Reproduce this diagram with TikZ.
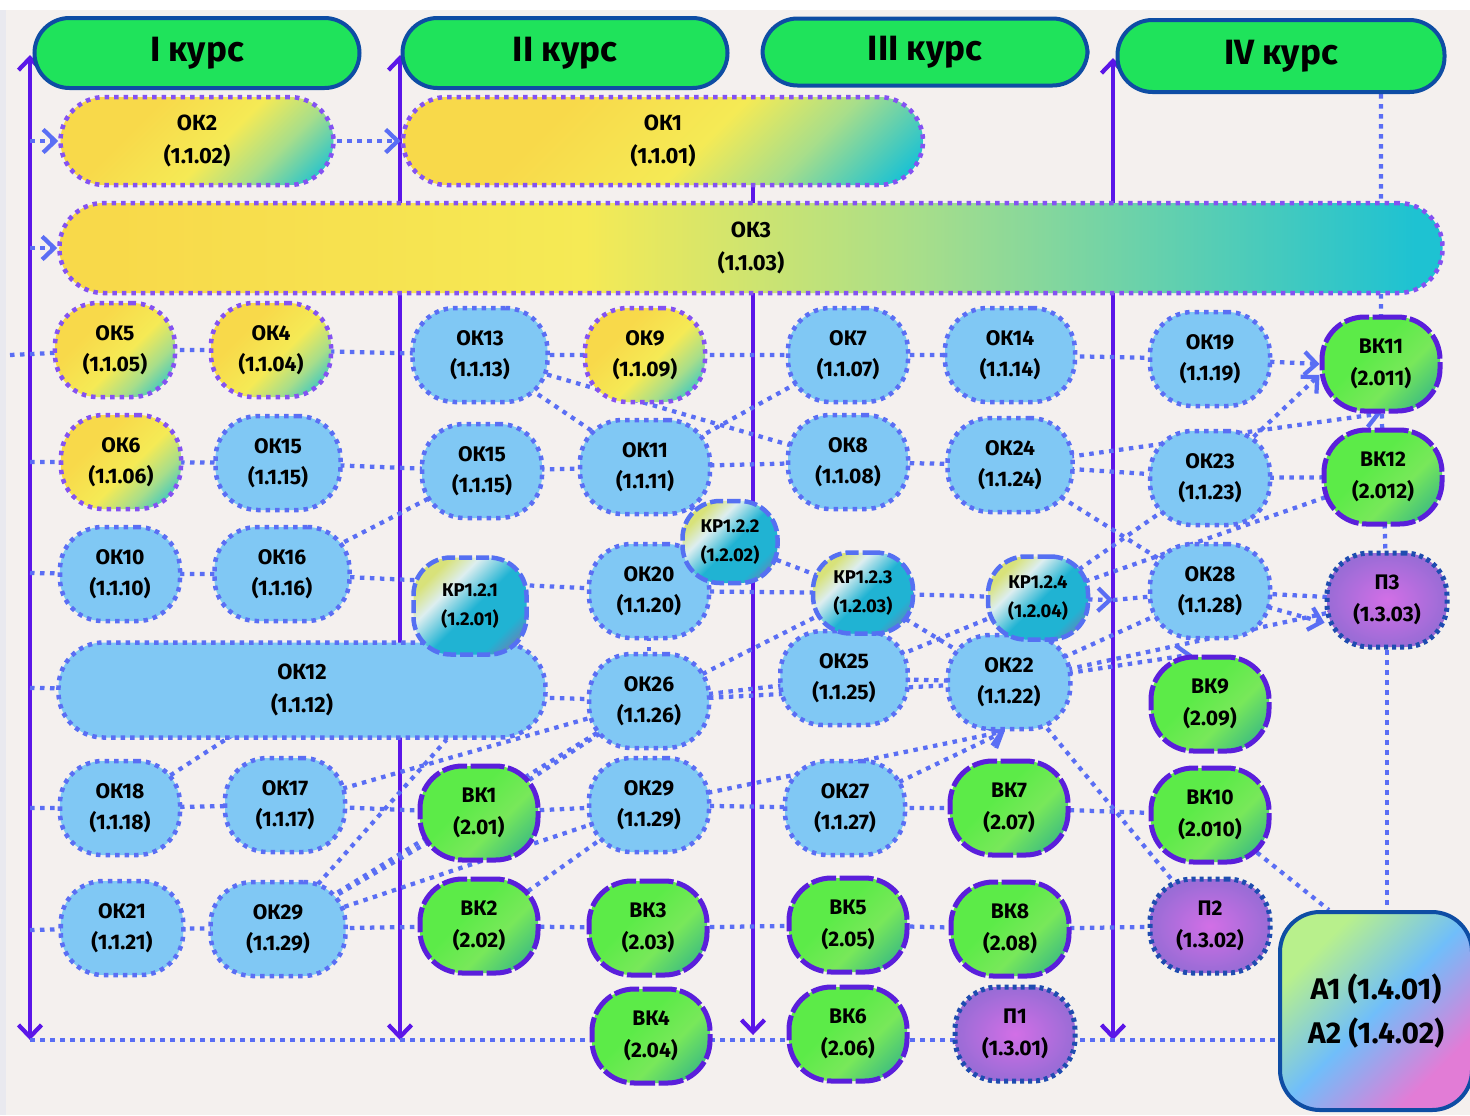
\documentclass[tikz,border=0pt]{standalone}
\usepackage{fontspec}
\setmainfont{Fira Sans}
\usepackage{xcolor}
\usepackage{tikz}
\usetikzlibrary{arrows.meta}
\definecolor{paper}{HTML}{F4F0EE}
\definecolor{rim}{HTML}{E9E9EF}
\definecolor{hdrgreen}{HTML}{1FE35B}
\definecolor{hdrblue}{HTML}{0E4DA4}
\definecolor{coursec}{HTML}{5B16E8}
\definecolor{linkc}{HTML}{5A6EF4}
\definecolor{sky}{HTML}{80C8F4}
\definecolor{ylA}{HTML}{F8D94A}
\definecolor{ylB}{HTML}{F5EA55}
\definecolor{ylC}{HTML}{A8DE8A}
\definecolor{tealA}{HTML}{1EC2D2}
\definecolor{dotpurp}{HTML}{8452F2}
\definecolor{limeA}{HTML}{5CEB48}
\definecolor{limeB}{HTML}{78E85A}
\definecolor{tealG}{HTML}{2AAE8C}
\definecolor{vkedge}{HTML}{5A1FDB}
\definecolor{krY}{HTML}{D8E27A}
\definecolor{krW}{HTML}{DDEEF0}
\definecolor{krT}{HTML}{20B3D3}
\definecolor{krP}{HTML}{8C6AA8}
\definecolor{krEdge}{HTML}{5570F2}
\definecolor{pIn}{HTML}{D26FE6}
\definecolor{pOut}{HTML}{9A6CD6}
\definecolor{pEdge}{HTML}{1E4CB0}
\definecolor{aG}{HTML}{B8F08C}
\definecolor{aB}{HTML}{70BEFA}
\definecolor{aP}{HTML}{E27CD6}
\pgfdeclarehorizontalshading{okyellow}{100bp}{color(0bp)=(ylA); color(35bp)=(ylA); color(55bp)=(ylB); color(68bp)=(ylC); color(82bp)=(tealA); color(100bp)=(tealA)}
\pgfdeclarehorizontalshading{okwide}{100bp}{color(0bp)=(ylA); color(27bp)=(ylA); color(44bp)=(ylB); color(56bp)=(ylC); color(74bp)=(tealA); color(100bp)=(tealA)}
\pgfdeclarehorizontalshading{vkgreen}{100bp}{color(0bp)=(limeA); color(42bp)=(limeA); color(60bp)=(limeB); color(84bp)=(tealG); color(100bp)=(tealG)}
\pgfdeclarehorizontalshading{krmix}{100bp}{color(0bp)=(krY); color(27bp)=(krY); color(37bp)=(krW); color(52bp)=(krT); color(70bp)=(krT); color(84bp)=(krP); color(100bp)=(krP)}
\pgfdeclarehorizontalshading{atest}{100bp}{color(0bp)=(aG); color(28bp)=(aG); color(50bp)=(aB); color(72bp)=(aP); color(100bp)=(aP)}
\pgfdeclarelayer{back}
\pgfdeclarelayer{wires}
\pgfsetlayers{back,wires,main}

\begin{document}
\begin{tikzpicture}[x=0.2mm, y=-0.2mm,
  every node/.style={text=black, align=center},
  >={Straight Barb[length=2.4mm,width=4.6mm]},
  blob/.style={rectangle, rounded corners=8.5mm, minimum width=24mm, minimum height=18.8mm,
    inner sep=0pt, font=\fontsize{12}{18}\selectfont\bfseries},
  okb/.style={blob, fill=sky, draw=linkc, line width=0.9mm, dash pattern=on 0.9mm off 1mm},
  oky/.style={blob, shade, shading=okyellow, shading angle=-45, draw=dotpurp, line width=0.9mm,
    dash pattern=on 0.9mm off 1mm},
  pill/.style={oky, rounded corners=8.8mm, minimum height=17.6mm, font=\fontsize{12.5}{19}\selectfont\bfseries},
  vk/.style={blob, minimum width=23.6mm, shade, shading=vkgreen, shading angle=-45, draw=vkedge,
    line width=1mm, dash pattern=on 5mm off 0.7mm},
  kr/.style={blob, rounded corners=7.5mm, shade, shading=krmix, shading angle=-45, draw=krEdge,
    line width=0.9mm, dash pattern=on 2.6mm off 0.8mm, font=\fontsize{10.5}{16}\selectfont\bfseries},
  prac/.style={blob, inner color=pIn, outer color=pOut, draw=pEdge, line width=1mm,
    dash pattern=on 0.8mm off 0.8mm},
  coursebox/.style={rectangle, rounded corners=7mm, minimum width=65mm, minimum height=14mm,
    fill=hdrgreen, draw=hdrblue, line width=0.8mm, font=\fontsize{20}{22}\selectfont\bfseries},
  link/.style={draw=linkc, line width=0.85mm, dash pattern=on 0.9mm off 1.1mm},
  courseline/.style={draw=coursec, line width=0.85mm}]

  \useasboundingbox (0,0) rectangle (1470,1115);
  \begin{pgfonlayer}{back}
    \fill[rim] (0,0) rectangle (1470,1115);
    \fill[white] (0,0) rectangle (1470,10);
    \fill[paper] (6,10) rectangle (1470,1115);
  \end{pgfonlayer}

  % course headers
  \node[coursebox] (h1) at (197,53) {I курс};
  \node[coursebox] (h2) at (565,53) {II курс};
  \node[coursebox, minimum height=13.4mm] (h3) at (925,52) {III курс};
  \node[coursebox, minimum width=65.4mm, minimum height=14.4mm] (h4) at (1281,56) {IV курс};

  % long components
  \node[pill, minimum width=54.6mm] (ok2) at (197,141) {ОК2\\(1.1.02)};
  \node[pill, minimum width=104mm] (ok1) at (663,141) {ОК1\\(1.1.01)};
  \node[pill, minimum width=276.6mm, minimum height=18mm, shading=okwide, shading angle=0] (ok3) at (751,248) {ОК3\\(1.1.03)};
  \node[okb, rounded corners=9mm, minimum width=97.4mm, minimum height=19mm,
    font=\fontsize{12.5}{19}\selectfont\bfseries] (ok12) at (302,690) {ОК12\\(1.1.12)};

  \foreach \n/\x/\y/\lbl/\cd in {ok5/115/350/5/05, ok4/271/350/4/04, ok9/645/355/9/09, ok6/121/462/6/06}
    \node[oky] (\n) at (\x,\y) {ОК\lbl\\(1.1.\cd)};

  \foreach \n/\x/\y/\lbl/\cd/\bw in {
    ok13/480/355/13/13/27, ok7/848/355/7/07/24, ok14/1010/355/14/14/26, ok19/1210/359/19/19/24,
    ok15a/278/463/15/15/25, ok15b/482/471/15/15/24, ok11/645/467/11/11/26, ok8/848/462/8/08/24,
    ok24/1010/465/24/24/25, ok23/1210/478/23/23/24, ok10/120/574/10/10/24, ok16/282/574/16/16/27,
    ok20/649/591/20/20/24, ok28/1210/591/28/28/24, ok26/649/701/26/26/24, ok25/844/678/25/25/25.5,
    ok22/1009/682/22/22/24.5, ok18/120/808/18/18/24, ok17/285/805/17/17/24, ok29b/649/805/29/29/24,
    ok27/845/808/27/27/24, ok21/122/928/21/21/24.5, ok29a/278/929/29/29/27}
    \node[okb, minimum width=\bw mm] (\n) at (\x,\y) {ОК\lbl\\(1.1.\cd)};

  \foreach \n/\x/\y/\lbl/\cd in {
    vk11/1381/364/11/011, vk12/1383/477/12/012, vk9/1210/704/9/09, vk1/479/813/1/01,
    vk7/1009/808/7/07, vk10/1210/815/10/010, vk2/479/926/2/02, vk3/648/928/3/03,
    vk5/848/925/5/05, vk8/1010/929/8/08, vk4/651/1036/4/04, vk6/848/1034/6/06}
    \node[vk] (\n) at (\x,\y) {ВК\lbl\\(2.\cd)};

  \foreach \n/\x/\y/\lbl/\bw/\bh in {kr1/470/606/1/22.6/19.4, kr2/730/542/2/19/16.4,
    kr3/863/593/3/20/16.2, kr4/1038/598/4/20/16.6}
    \node[kr, minimum width=\bw mm, minimum height=\bh mm] (\n) at (\x,\y) {КР1.2.\lbl\\(1.2.0\lbl)};

  \foreach \n/\x/\y/\lbl in {p3/1387/600/3, p2/1210/926/2, p1/1015/1034/1}
    \node[prac] (\n) at (\x,\y) {П\lbl\\(1.3.0\lbl)};

  \node[rectangle, rounded corners=8mm, minimum width=38.4mm, minimum height=39.6mm, shade,
    shading=atest, shading angle=-45, draw=hdrblue, line width=0.8mm,
    font=\fontsize{17}{24.5}\selectfont\bfseries] (a) at (1376,1011) {А1 (1.4.01)\\А2 (1.4.02)};

  % free ends
  \coordinate (s1) at (10,355);
  \coordinate (s2) at (30,141);
  \coordinate (s3) at (30,248);
  \coordinate (s4) at (30,462);
  \coordinate (s5) at (30,573);
  \coordinate (s6) at (30,688);
  \coordinate (s7) at (30,808);
  \coordinate (s8) at (30,930);
  \coordinate (s9) at (30,1040);
  \coordinate (t3) at (1113,600);
  \coordinate (c1t) at (30,55);    \coordinate (c1b) at (30,1040);
  \coordinate (c2t) at (400,55);   \coordinate (c2b) at (400,1040);
  \coordinate (c3t) at (753,185);  \coordinate (c3b) at (753,1035);
  \coordinate (c4t) at (1113,58);  \coordinate (c4b) at (1113,1040);

  \begin{pgfonlayer}{wires}
    % years
    \foreach \k in {1,2,4}
      \draw[courseline, <->] (c\k t) -- (c\k b);
    \draw[courseline, ->] (c3t) -- (c3b);

    % rows
    \draw[link] (s1) -- (ok5.center) -- (ok4.center) -- (ok13.center) -- (ok9.center) -- (ok7.center)
      -- (ok14.center) -- (ok19.center);
    \draw[link] (s4) -- (ok6.center) -- (ok15a.center) -- (ok15b.center) -- (ok11.center) -- (ok8.center)
      -- (ok24.center) -- (ok23.center) -- (vk12.center);
    \draw[link] (s5) -- (ok10.center) -- (ok16.center) -- (ok20.center) -- (kr3.center) -- (kr4.center);
    \draw[link] (t3) -- (ok28.center) -- (p3.center);
    \draw[link] (s6) -- (ok12.center) -- (ok26.center);
    \draw[link] (s7) -- (ok18.center) -- (ok17.center) -- (vk1.center) -- (ok29b.center) -- (ok27.center)
      -- (vk7.center) -- (vk10.center);
    \draw[link] (s8) -- (ok21.center) -- (ok29a.center) -- (vk2.center) -- (vk3.center) -- (vk5.center)
      -- (vk8.center) -- (p2.center);
    \draw[link] (s9) -- (s9 -| a.west);
    \draw[link] (vk11.north |- h4.south) -- (vk11.center) -- (vk12.center) -- (p3.center);
    \draw[link] (p3.center) -- (p3.center |- a.north);

    % links between components
    \foreach \u/\v in {ok13/ok11, ok13/ok8, ok11/ok7, ok16/ok15b, ok11/kr2, ok20/kr2, kr2/kr3,
      ok26/ok20, ok26/kr3, ok26/ok25, ok26/ok22, kr3/ok22, ok25/kr4, ok25/ok22, ok24/ok28,
      kr4/ok23, kr4/vk12, ok22/ok28, ok22/p3, ok22/p2, ok18/ok12, ok17/ok26, ok29a/ok26,
      ok29a/ok29b, ok29a/vk1, vk1/ok26, vk2/ok29b}
      \draw[link] (\u.center) -- (\v.center);
    \draw[link] (ok29a.center) -- (ok12.-19);
    \draw[link] (vk10.center) -- (a.115);

    % arrows
    \draw[link, ->] (s2) -- (ok2.west);
    \draw[link, ->] (ok2.center) -- (ok1.west);
    \draw[link, ->] (s3) -- (ok3.west);
    \draw[link, ->] (ok19.center) -- (vk11.west);
    \draw[link, ->] (ok23.center) -- (vk11.190);
    \draw[link, ->] (ok24.center) -- (vk11.south);
    \draw[link, ->] (kr4.center) -- (t3);
    \draw[link, ->] (ok28.center) -- (p3.200);
    \draw[link, ->] (ok22.center) -- (vk9.110);
    \draw[link, ->] (ok29b.center) -- (ok22.265);
    \draw[link, ->] (ok27.center) -- (ok22.265);
  \end{pgfonlayer}
\end{tikzpicture}
\end{document}
